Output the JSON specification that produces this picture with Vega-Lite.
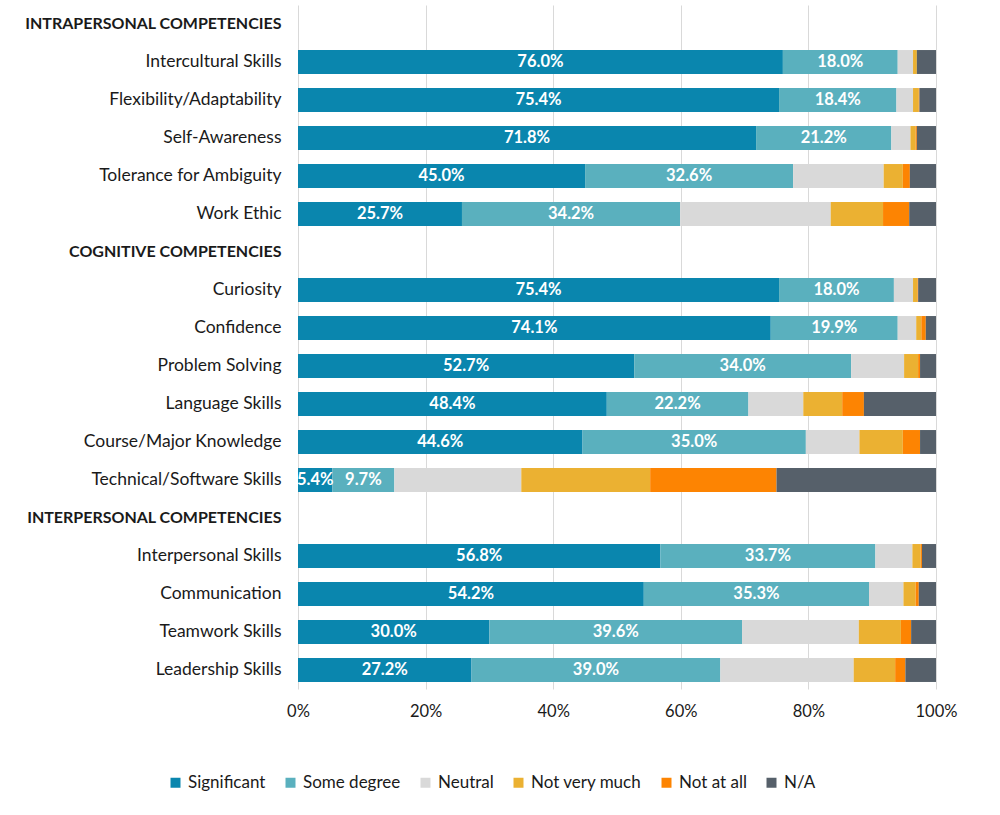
{
  "$schema": "https://vega.github.io/schema/vega-lite/v6.json",
  "autosize": "none",
  "width": 638,
  "height": 684,
  "padding": {"left": 298, "top": 5, "right": 64, "bottom": 126},
  "background": "white",
  "config": {
    "font": "Lato",
    "view": {"stroke": null}
  },
  "data": {
    "values": [
      {"item": "Intercultural Skills", "response": "Significant", "k": 1, "value": 76.0},
      {"item": "Intercultural Skills", "response": "Some degree", "k": 2, "value": 18.0},
      {"item": "Intercultural Skills", "response": "Neutral", "k": 3, "value": 2.4},
      {"item": "Intercultural Skills", "response": "Not very much", "k": 4, "value": 0.6},
      {"item": "Intercultural Skills", "response": "Not at all", "k": 5, "value": 0.0},
      {"item": "Intercultural Skills", "response": "N/A", "k": 6, "value": 3.0},
      {"item": "Flexibility/Adaptability", "response": "Significant", "k": 1, "value": 75.4},
      {"item": "Flexibility/Adaptability", "response": "Some degree", "k": 2, "value": 18.4},
      {"item": "Flexibility/Adaptability", "response": "Neutral", "k": 3, "value": 2.6},
      {"item": "Flexibility/Adaptability", "response": "Not very much", "k": 4, "value": 0.9},
      {"item": "Flexibility/Adaptability", "response": "Not at all", "k": 5, "value": 0.1},
      {"item": "Flexibility/Adaptability", "response": "N/A", "k": 6, "value": 2.6},
      {"item": "Self-Awareness", "response": "Significant", "k": 1, "value": 71.8},
      {"item": "Self-Awareness", "response": "Some degree", "k": 2, "value": 21.2},
      {"item": "Self-Awareness", "response": "Neutral", "k": 3, "value": 3.0},
      {"item": "Self-Awareness", "response": "Not very much", "k": 4, "value": 0.8},
      {"item": "Self-Awareness", "response": "Not at all", "k": 5, "value": 0.2},
      {"item": "Self-Awareness", "response": "N/A", "k": 6, "value": 3.0},
      {"item": "Tolerance for Ambiguity", "response": "Significant", "k": 1, "value": 45.0},
      {"item": "Tolerance for Ambiguity", "response": "Some degree", "k": 2, "value": 32.6},
      {"item": "Tolerance for Ambiguity", "response": "Neutral", "k": 3, "value": 14.2},
      {"item": "Tolerance for Ambiguity", "response": "Not very much", "k": 4, "value": 3.0},
      {"item": "Tolerance for Ambiguity", "response": "Not at all", "k": 5, "value": 1.1},
      {"item": "Tolerance for Ambiguity", "response": "N/A", "k": 6, "value": 4.1},
      {"item": "Work Ethic", "response": "Significant", "k": 1, "value": 25.7},
      {"item": "Work Ethic", "response": "Some degree", "k": 2, "value": 34.2},
      {"item": "Work Ethic", "response": "Neutral", "k": 3, "value": 23.6},
      {"item": "Work Ethic", "response": "Not very much", "k": 4, "value": 8.2},
      {"item": "Work Ethic", "response": "Not at all", "k": 5, "value": 4.1},
      {"item": "Work Ethic", "response": "N/A", "k": 6, "value": 4.2},
      {"item": "Curiosity", "response": "Significant", "k": 1, "value": 75.4},
      {"item": "Curiosity", "response": "Some degree", "k": 2, "value": 18.0},
      {"item": "Curiosity", "response": "Neutral", "k": 3, "value": 3.0},
      {"item": "Curiosity", "response": "Not very much", "k": 4, "value": 0.7},
      {"item": "Curiosity", "response": "Not at all", "k": 5, "value": 0.1},
      {"item": "Curiosity", "response": "N/A", "k": 6, "value": 2.8},
      {"item": "Confidence", "response": "Significant", "k": 1, "value": 74.1},
      {"item": "Confidence", "response": "Some degree", "k": 2, "value": 19.9},
      {"item": "Confidence", "response": "Neutral", "k": 3, "value": 2.9},
      {"item": "Confidence", "response": "Not very much", "k": 4, "value": 0.8},
      {"item": "Confidence", "response": "Not at all", "k": 5, "value": 0.7},
      {"item": "Confidence", "response": "N/A", "k": 6, "value": 1.6},
      {"item": "Problem Solving", "response": "Significant", "k": 1, "value": 52.7},
      {"item": "Problem Solving", "response": "Some degree", "k": 2, "value": 34.0},
      {"item": "Problem Solving", "response": "Neutral", "k": 3, "value": 8.3},
      {"item": "Problem Solving", "response": "Not very much", "k": 4, "value": 2.2},
      {"item": "Problem Solving", "response": "Not at all", "k": 5, "value": 0.3},
      {"item": "Problem Solving", "response": "N/A", "k": 6, "value": 2.5},
      {"item": "Language Skills", "response": "Significant", "k": 1, "value": 48.4},
      {"item": "Language Skills", "response": "Some degree", "k": 2, "value": 22.2},
      {"item": "Language Skills", "response": "Neutral", "k": 3, "value": 8.6},
      {"item": "Language Skills", "response": "Not very much", "k": 4, "value": 6.1},
      {"item": "Language Skills", "response": "Not at all", "k": 5, "value": 3.4},
      {"item": "Language Skills", "response": "N/A", "k": 6, "value": 11.3},
      {"item": "Course/Major Knowledge", "response": "Significant", "k": 1, "value": 44.6},
      {"item": "Course/Major Knowledge", "response": "Some degree", "k": 2, "value": 35.0},
      {"item": "Course/Major Knowledge", "response": "Neutral", "k": 3, "value": 8.4},
      {"item": "Course/Major Knowledge", "response": "Not very much", "k": 4, "value": 6.8},
      {"item": "Course/Major Knowledge", "response": "Not at all", "k": 5, "value": 2.7},
      {"item": "Course/Major Knowledge", "response": "N/A", "k": 6, "value": 2.5},
      {"item": "Technical/Software Skills", "response": "Significant", "k": 1, "value": 5.4},
      {"item": "Technical/Software Skills", "response": "Some degree", "k": 2, "value": 9.7},
      {"item": "Technical/Software Skills", "response": "Neutral", "k": 3, "value": 19.9},
      {"item": "Technical/Software Skills", "response": "Not very much", "k": 4, "value": 20.2},
      {"item": "Technical/Software Skills", "response": "Not at all", "k": 5, "value": 19.8},
      {"item": "Technical/Software Skills", "response": "N/A", "k": 6, "value": 25.0},
      {"item": "Interpersonal Skills", "response": "Significant", "k": 1, "value": 56.8},
      {"item": "Interpersonal Skills", "response": "Some degree", "k": 2, "value": 33.7},
      {"item": "Interpersonal Skills", "response": "Neutral", "k": 3, "value": 5.8},
      {"item": "Interpersonal Skills", "response": "Not very much", "k": 4, "value": 1.3},
      {"item": "Interpersonal Skills", "response": "Not at all", "k": 5, "value": 0.2},
      {"item": "Interpersonal Skills", "response": "N/A", "k": 6, "value": 2.2},
      {"item": "Communication", "response": "Significant", "k": 1, "value": 54.2},
      {"item": "Communication", "response": "Some degree", "k": 2, "value": 35.3},
      {"item": "Communication", "response": "Neutral", "k": 3, "value": 5.4},
      {"item": "Communication", "response": "Not very much", "k": 4, "value": 1.9},
      {"item": "Communication", "response": "Not at all", "k": 5, "value": 0.5},
      {"item": "Communication", "response": "N/A", "k": 6, "value": 2.7},
      {"item": "Teamwork Skills", "response": "Significant", "k": 1, "value": 30.0},
      {"item": "Teamwork Skills", "response": "Some degree", "k": 2, "value": 39.6},
      {"item": "Teamwork Skills", "response": "Neutral", "k": 3, "value": 18.3},
      {"item": "Teamwork Skills", "response": "Not very much", "k": 4, "value": 6.6},
      {"item": "Teamwork Skills", "response": "Not at all", "k": 5, "value": 1.6},
      {"item": "Teamwork Skills", "response": "N/A", "k": 6, "value": 3.9},
      {"item": "Leadership Skills", "response": "Significant", "k": 1, "value": 27.2},
      {"item": "Leadership Skills", "response": "Some degree", "k": 2, "value": 39.0},
      {"item": "Leadership Skills", "response": "Neutral", "k": 3, "value": 20.9},
      {"item": "Leadership Skills", "response": "Not very much", "k": 4, "value": 6.5},
      {"item": "Leadership Skills", "response": "Not at all", "k": 5, "value": 1.6},
      {"item": "Leadership Skills", "response": "N/A", "k": 6, "value": 4.8}
    ]
  },
  "encoding": {
    "y": {
      "field": "item",
      "type": "nominal",
      "title": null,
      "scale": {
        "domain": ["INTRAPERSONAL COMPETENCIES", "Intercultural Skills", "Flexibility/Adaptability", "Self-Awareness", "Tolerance for Ambiguity", "Work Ethic", "COGNITIVE COMPETENCIES", "Curiosity", "Confidence", "Problem Solving", "Language Skills", "Course/Major Knowledge", "Technical/Software Skills", "INTERPERSONAL COMPETENCIES", "Interpersonal Skills", "Communication", "Teamwork Skills", "Leadership Skills"],
        "paddingInner": 0.37,
        "paddingOuter": 0.185
      },
      "axis": {
        "domain": false,
        "ticks": false,
        "grid": false,
        "labelPadding": 17,
        "labelFontSize": {"condition": {"test": "datum.label === upper(datum.label)", "value": 16}, "value": 17.5},
        "labelColor": "#1a1a1a",
        "labelFontWeight": {"condition": {"test": "datum.label === upper(datum.label)", "value": "bold"}, "value": "normal"},
        "labelLimit": 400
      }
    }
  },
  "layer": [
    {
      "mark": {"type": "bar"},
      "encoding": {
        "x": {
          "field": "value",
          "type": "quantitative",
          "stack": "zero",
          "title": null,
          "scale": {"domain": [0, 100], "nice": false},
          "axis": {
            "values": [0, 20, 40, 60, 80, 100],
            "labelExpr": "datum.value + '%'",
            "domain": false,
            "ticks": false,
            "grid": true,
            "gridColor": "#d9d9d9",
            "labelFontSize": 16.5,
            "labelColor": "#1a1a1a",
            "labelPadding": 14,
            "labelFlush": false
          }
        },
        "color": {
          "field": "response",
          "type": "nominal",
          "scale": {
            "domain": ["Significant", "Some degree", "Neutral", "Not very much", "Not at all", "N/A"],
            "range": ["#0a86ae", "#5ab0be", "#d9d9d9", "#ebb132", "#fd8402", "#56606a"]
          },
          "legend": {
            "title": null,
            "orient": "none",
            "direction": "horizontal",
            "legendX": -131,
            "legendY": 769,
            "symbolType": "square",
            "symbolSize": 100,
            "symbolStrokeWidth": 0,
            "labelFontSize": 17,
            "labelColor": "#1a1a1a",
            "labelOffset": 4,
            "columnPadding": 16
          }
        },
        "order": {"field": "k", "type": "quantitative"}
      }
    },
    {
      "transform": [{"filter": "datum.k <= 2"}],
      "mark": {"type": "text", "color": "white", "fontWeight": "bold", "fontSize": 16.5, "baseline": "middle", "text": {"expr": "format(datum.value, '.1f') + '%'"}},
      "encoding": {
        "x": {"field": "value", "type": "quantitative", "stack": "zero", "bandPosition": 0.5},
        "detail": {"field": "response"},
        "order": {"field": "k", "type": "quantitative"}
      }
    }
  ]
}
